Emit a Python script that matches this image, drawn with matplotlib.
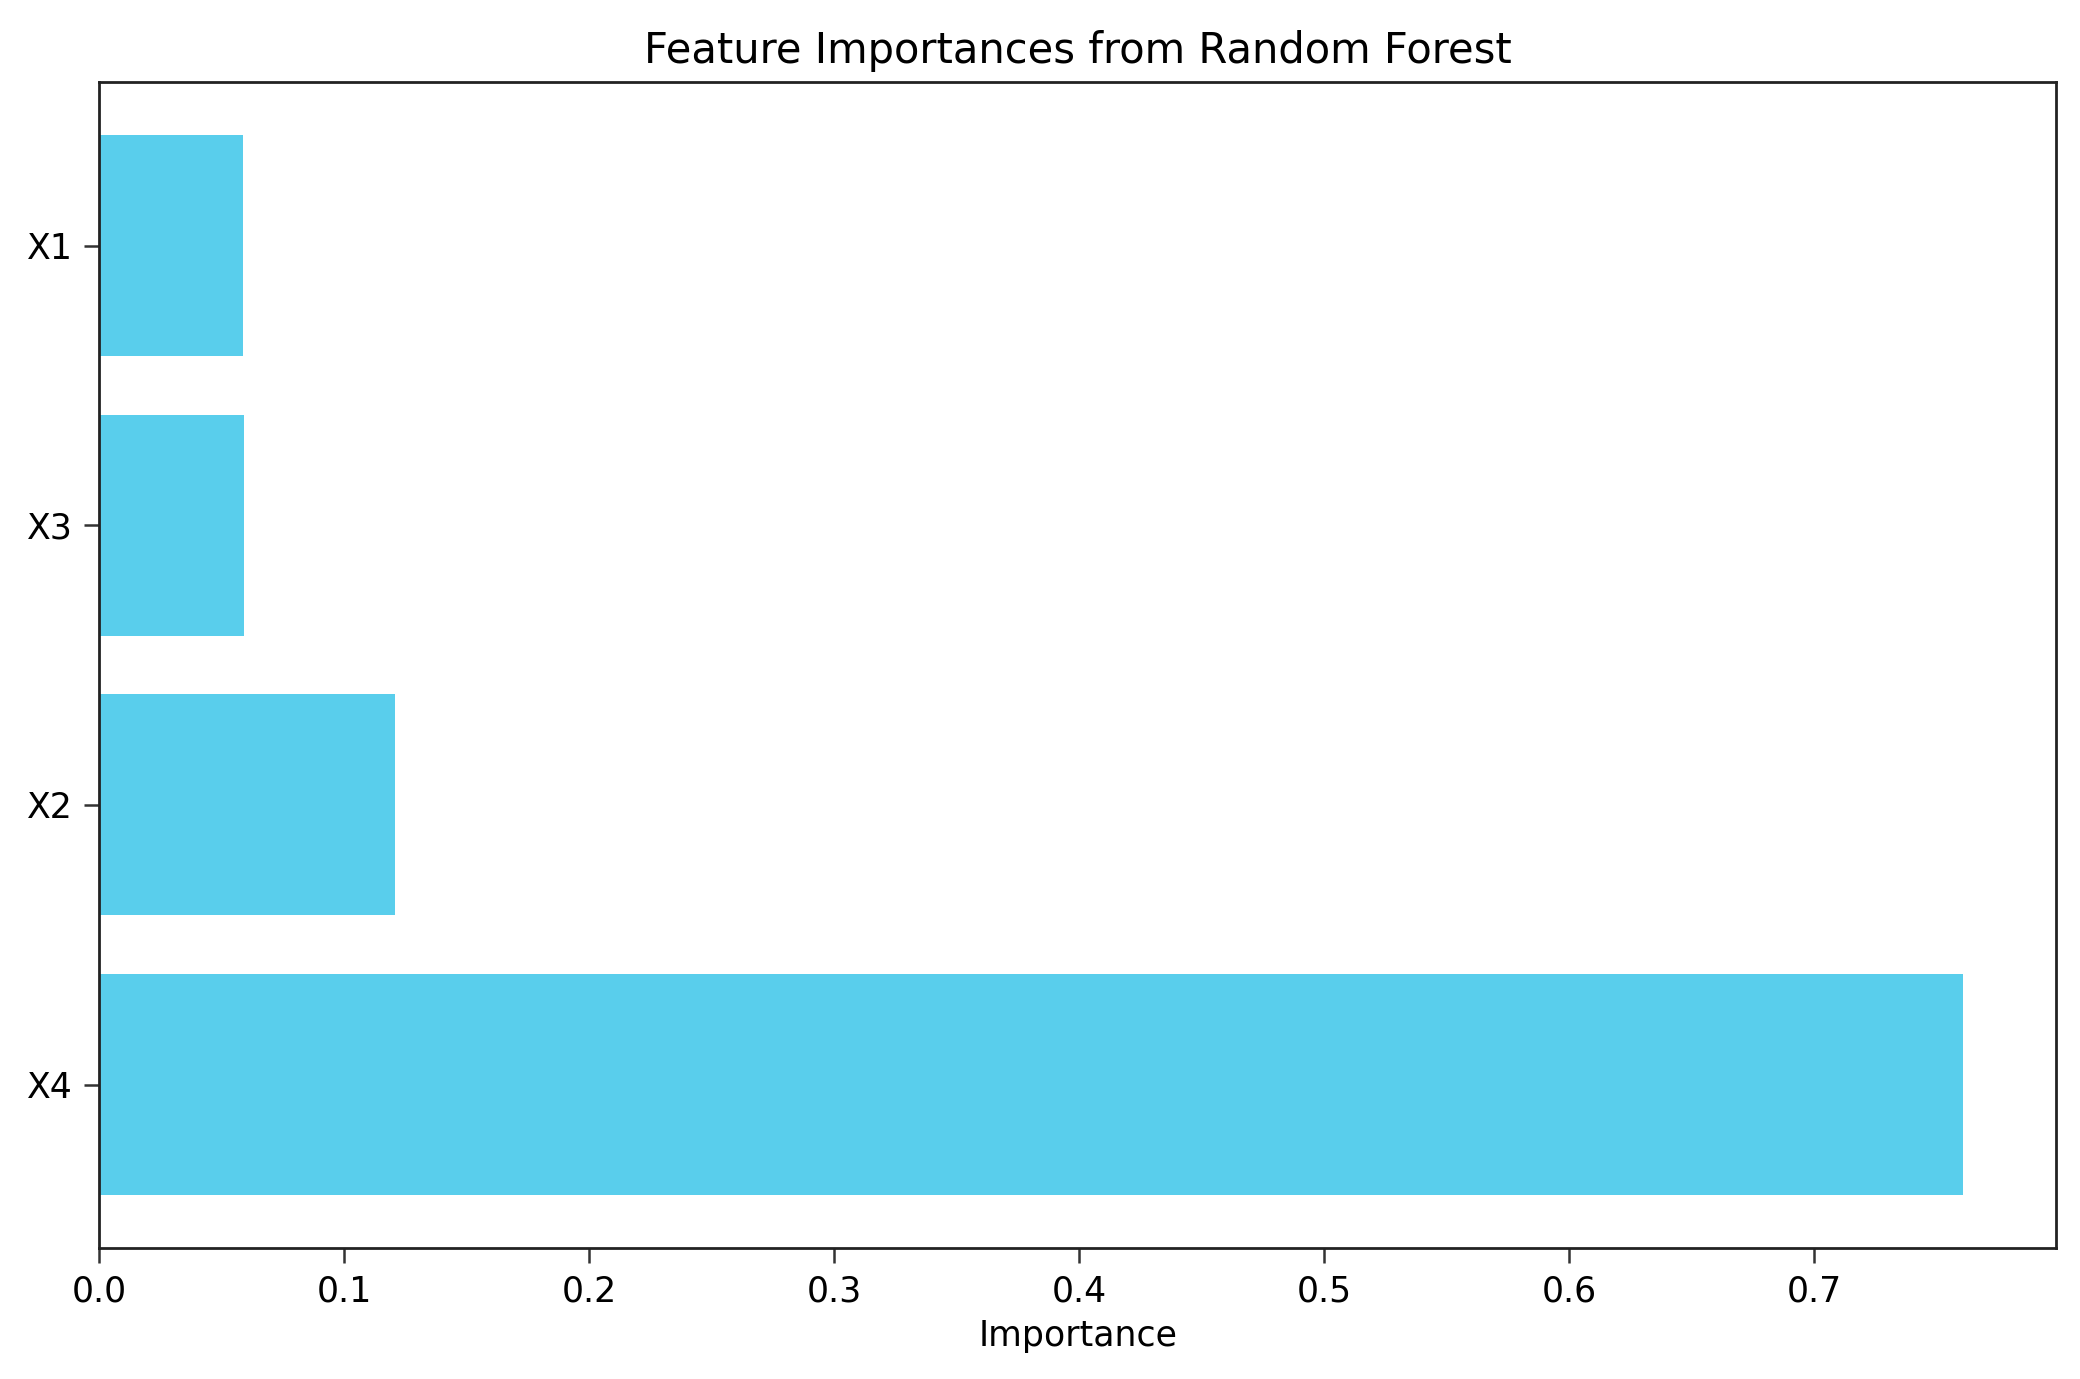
import matplotlib
matplotlib.use("Agg")
import matplotlib.pyplot as plt

features = ["X4", "X2", "X3", "X1"]
importances = [0.7606, 0.1208, 0.0592, 0.0584]
bar_color = "#59CEEC"

fig = plt.figure(figsize=(20.8, 13.79), dpi=100)
ax = fig.add_axes([0.0478, 0.095, 0.9407, 0.8455])

ax.barh(features, importances, color=bar_color, height=0.79)
ax.set_title("Feature Importances from Random Forest", fontsize=30, pad=14)
ax.set_xlabel("Importance", fontsize=25, labelpad=8)
ax.tick_params(axis="both", labelsize=25, length=11, width=1.8, pad=8, color="#333333")
for s in ax.spines.values():
    s.set_linewidth(2.0)
    s.set_color("#222222")
ax.set_xticks([0.0, 0.1, 0.2, 0.3, 0.4, 0.5, 0.6, 0.7])

fig.savefig("out.png", dpi=100)
